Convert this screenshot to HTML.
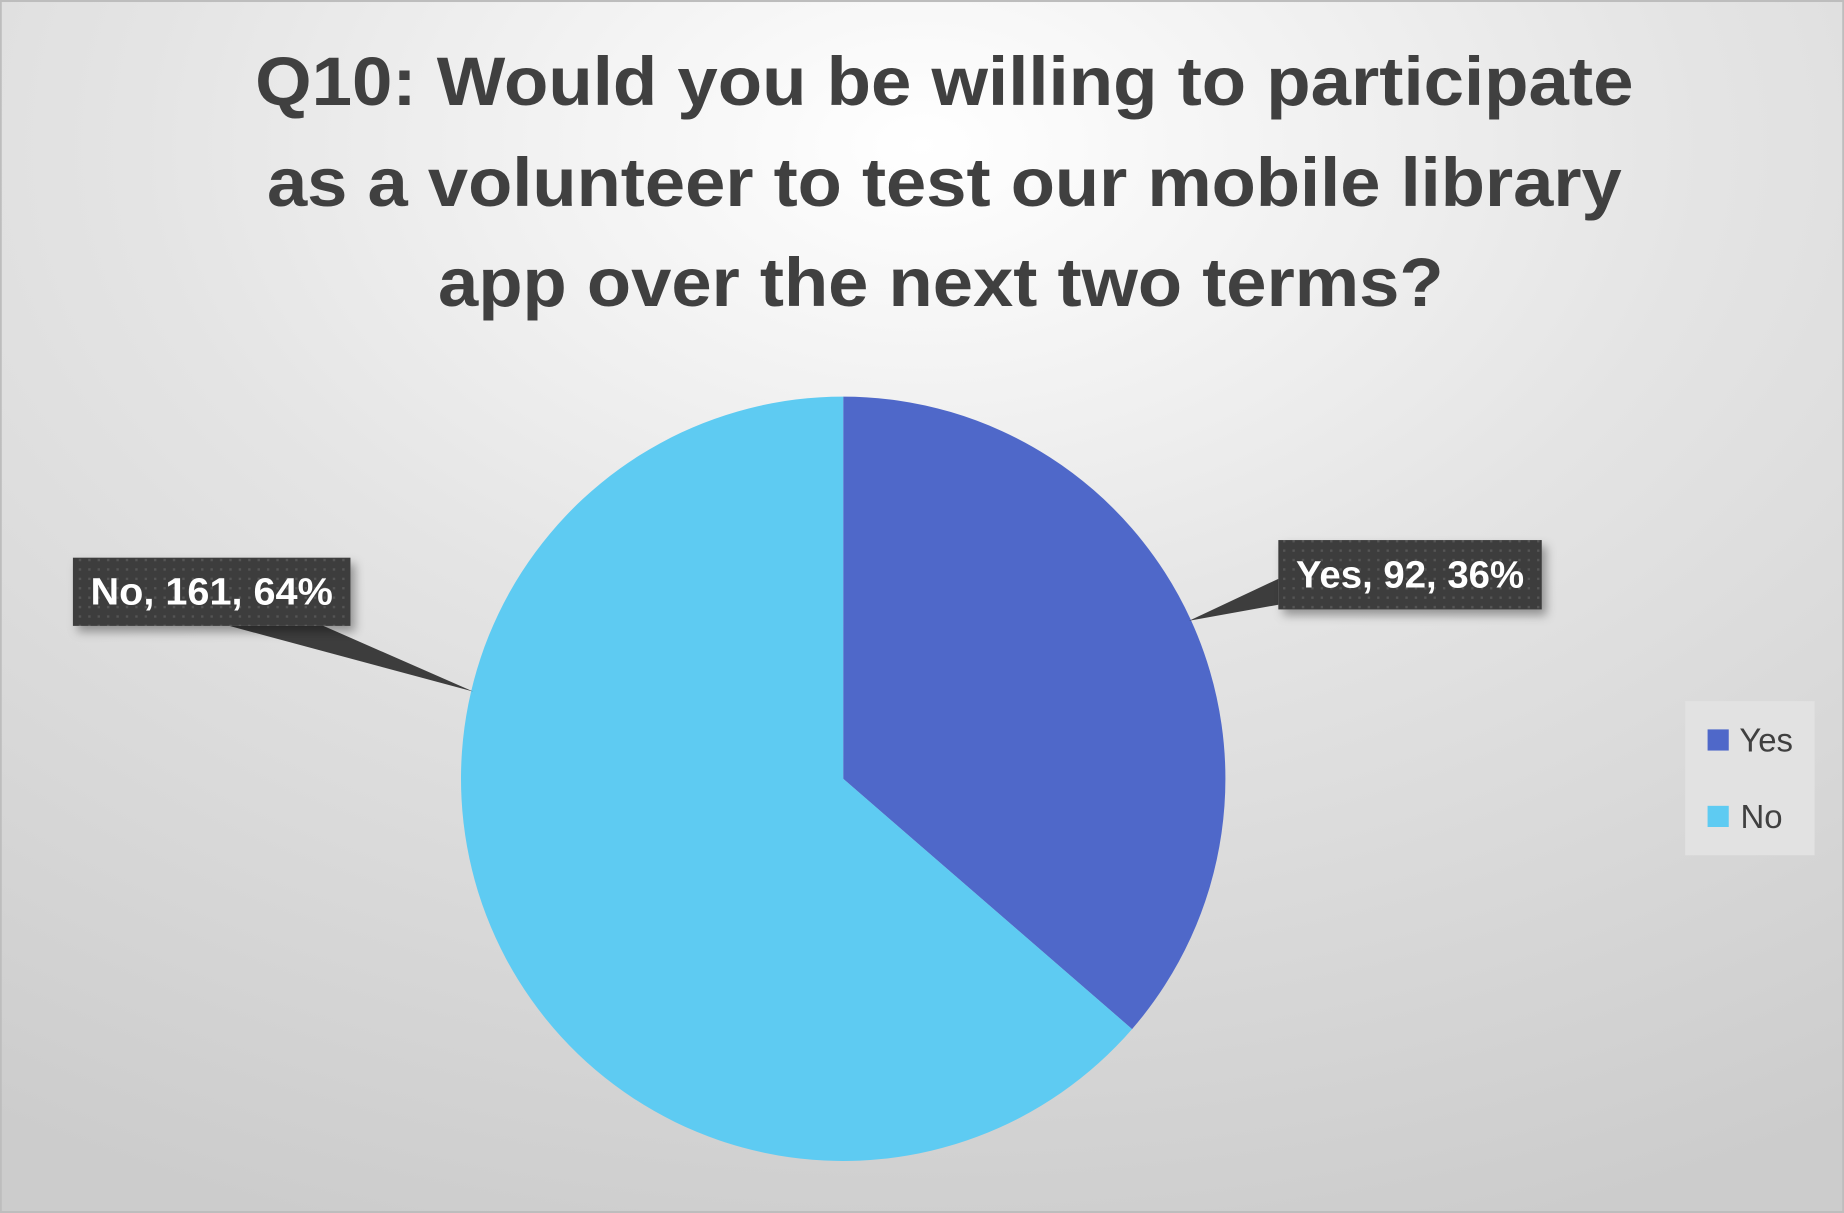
<!DOCTYPE html>
<html><head><meta charset="utf-8"><style>
html,body{margin:0;padding:0;background:#fff}
svg{display:block}
text{font-family:"Liberation Sans",sans-serif}
</style></head><body>
<svg width="1844" height="1213" viewBox="0 0 1568 1031" xmlns="http://www.w3.org/2000/svg">
<defs>
<radialGradient id="bg" cx="0.5" cy="0.12" r="0.95">
<stop offset="0" stop-color="#ffffff"/><stop offset="0.45" stop-color="#e4e4e4"/><stop offset="1" stop-color="#cccccc"/>
</radialGradient>
<pattern id="dots" width="8" height="8" patternUnits="userSpaceOnUse">
<rect width="8" height="8" fill="#3d3d3d"/><rect x="3" y="3" width="2" height="2" fill="#555"/>
</pattern>
<filter id="sh" x="-10%" y="-20%" width="130%" height="160%"><feDropShadow dx="4" dy="5" stdDeviation="4" flood-color="#000" flood-opacity="0.35"/></filter>
</defs>
<rect x="0" y="0" width="1568" height="1031" fill="url(#bg)" stroke="#bdbdbd" stroke-width="3"/>
<g fill="#404040" font-weight="bold" font-size="58" text-anchor="middle">
<text x="803" y="89" textLength="1172" lengthAdjust="spacingAndGlyphs">Q10: Would you be willing to participate</text>
<text x="803" y="175" textLength="1152" lengthAdjust="spacingAndGlyphs">as a volunteer to test our mobile library</text>
<text x="800" y="260" textLength="855" lengthAdjust="spacingAndGlyphs">app over the next two terms?</text>
</g>
<g id="pie"></g>
<g id="labels"></g>
<g>
<rect x="1433" y="596" width="110" height="131" fill="#e2e2e2"/>
<rect x="1452" y="620" width="18" height="18" fill="#4f68c9"/>
<text x="1479" y="639" font-size="28" fill="#404040">Yes</text>
<rect x="1452" y="685" width="18" height="18" fill="#5ecbf2"/>
<text x="1480" y="704" font-size="28" fill="#404040">No</text>
</g>
</svg>
<script>
const categories = ["Yes", "No"];
const values = [92, 161];
const percentLabels = ["36%", "64%"];
const colors = ["#4f68c9", "#5ecbf2"];
const NS = "http://www.w3.org/2000/svg";
const cx = 717, cy = 662, r = 325;
const total = values.reduce((a, b) => a + b, 0);
const pie = document.getElementById("pie");
const labels = document.getElementById("labels");
function pt(a, rad) { return [cx + rad * Math.sin(a), cy - rad * Math.cos(a)]; }
let start = 0;
const mids = [];
values.forEach((v, i) => {
  const sweep = v / total * 2 * Math.PI;
  const end = start + sweep;
  const [x1, y1] = pt(start, r), [x2, y2] = pt(end, r);
  const p = document.createElementNS(NS, "path");
  p.setAttribute("d", `M${cx},${cy} L${x1},${y1} A${r},${r} 0 ${sweep > Math.PI ? 1 : 0} 1 ${x2},${y2} Z`);
  p.setAttribute("fill", colors[i]);
  
  
  pie.appendChild(p);
  mids.push(start + sweep / 2);
  start = end;
});
const boxes = [
  { x: 1087, y: 459, w: 224, h: 59, attach: [[1087, 492], [1087, 514]], off: 0 },
  { x: 62, y: 474, w: 236, h: 58, attach: [[195, 532], [275, 532]], off: 0.66 }
];
values.forEach((v, i) => {
  const b = boxes[i];
  const [ax, ay] = pt(mids[i] + b.off, r * 0.995);
  const g = document.createElementNS(NS, "g");
  
  
  const leader = document.createElementNS(NS, "polygon");
  leader.setAttribute("points", `${b.attach[0][0]},${b.attach[0][1]} ${b.attach[1][0]},${b.attach[1][1]} ${ax},${ay}`);
  leader.setAttribute("fill", "#3d3d3d");
  
  
  g.appendChild(leader);
  const rect = document.createElementNS(NS, "rect");
  rect.setAttribute("x", b.x); rect.setAttribute("y", b.y);
  rect.setAttribute("width", b.w); rect.setAttribute("height", b.h);
  rect.setAttribute("fill", "url(#dots)");
  rect.setAttribute("filter", "url(#sh)");
  g.appendChild(rect);
  const t = document.createElementNS(NS, "text");
  t.setAttribute("x", b.x + b.w / 2); t.setAttribute("y", b.y + b.h / 2 + 11);
  t.setAttribute("text-anchor", "middle");
  t.setAttribute("font-size", "32"); t.setAttribute("font-weight", "bold");
  t.setAttribute("fill", "#ffffff");
  t.setAttribute("textLength", b.w - 30);
  t.setAttribute("lengthAdjust", "spacingAndGlyphs");
  t.textContent = `${categories[i]}, ${v}, ${percentLabels[i]}`;
  g.appendChild(t);
  labels.appendChild(g);
});
</script>
</body></html>
